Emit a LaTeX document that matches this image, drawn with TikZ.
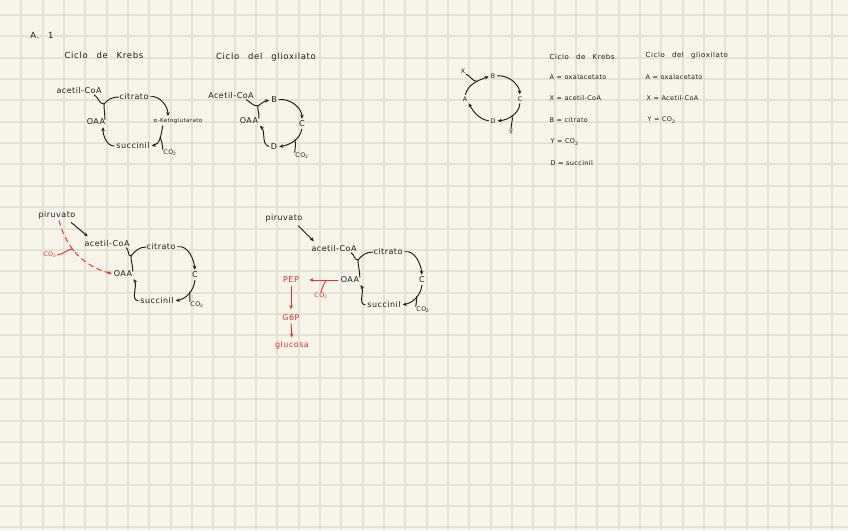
\documentclass[tikz,border=0pt]{standalone}
\usepackage{fontspec}
\setmainfont{DejaVu Sans}
\newfontfamily\hand[LetterSpace=6]{DejaVu Sans}
\newfontfamily\wide[LetterSpace=8,WordSpace=2.6]{DejaVu Sans}
\usetikzlibrary{arrows.meta}
\definecolor{paper}{HTML}{F7F5EA}
\definecolor{gridc}{HTML}{E4E1D5}
\definecolor{ink}{HTML}{1C1C1C}
\definecolor{redink}{HTML}{E5322B}
\tikzset{
 lbl/.style={font=\hand\fontsize{8}{9}\selectfont, inner sep=0.5pt, text=ink},
 sml/.style={font=\hand\fontsize{6.3}{7}\selectfont, inner sep=0.5pt, text=ink},
 tny/.style={font=\hand\fontsize{5.6}{6}\selectfont, inner sep=0.5pt, text=ink},
 ttl/.style={font=\wide\fontsize{8.5}{9}\selectfont, inner sep=0.5pt, text=ink},
 leg/.style={font=\hand\fontsize{6.5}{7}\selectfont, inner sep=0.5pt, text=ink, anchor=west},
 legt/.style={font=\wide\fontsize{7}{8}\selectfont, inner sep=0.5pt, text=ink, anchor=west},
 ln/.style={draw=ink, line width=0.95pt, line cap=round},
 arr/.style={ln, -{Stealth[length=4pt,width=3.6pt]}, shorten >=1.5pt, shorten <=1.5pt},
 rlbl/.style={lbl, text=redink},
 rsml/.style={sml, text=redink},
 rln/.style={draw=redink, line width=0.95pt, line cap=round},
 rarr/.style={rln, -{Stealth[length=4pt,width=3.6pt]}},
 gridline/.style={draw=gridc, line width=2pt},
}
\begin{document}
\begin{tikzpicture}[x=1pt,y=-1pt]
\fill[paper] (0,0) rectangle (848,530);
\useasboundingbox (0,0) rectangle (848,530);
\foreach \i in {1,...,39} \draw[gridline] (\i*21.33,0) -- (\i*21.33,530);
\foreach \j in {0,...,24} \draw[gridline] (0,15+\j*21.35) -- (848,15+\j*21.35);

% headings
\node[ttl] (h) at (42,35) {A. 1};
\node[ttl] (t1) at (104,55) {Ciclo de Krebs};
\node[ttl] (t2) at (266,57) {Ciclo del glioxilato};

% Krebs (top)
\node[lbl] (ka) at (79,91) {acetil-CoA};
\node[lbl] (kc) at (134,97) {citrato};
\node[tny] (kk) at (178,121) {α-Ketoglutarato};
\node[lbl] (ko) at (96,122) {OAA};
\node[lbl] (ks) at (133,146) {succinil};
\node[sml] (kco) at (170,153) {CO\textsubscript{2}};
\coordinate (kj) at (104,104);
\draw[ln] ([xshift=-8pt]ka.south east) to[out=-30,in=180] (kj);
\draw[ln] ([xshift=-1pt,yshift=-1pt]ko.north east) to[out=90,in=-90] (kj);
\draw[ln] (kj) to[out=50,in=180] (kc.west);
\draw[arr] (kc.east) to[out=10,in=90] ([xshift=-10pt]kk.north);
\draw[arr] ([xshift=-15pt]kk.south) to[out=-100,in=10] node[coordinate,pos=.45](kb){} (ks.east);
\draw[ln] (kb) to[out=-70,in=95] (kco.north west);
\draw[arr] (ks.west) to[out=180,in=-90] ([xshift=7pt]ko.south);

% Glioxilato (top)
\node[lbl] (ga) at (231,96) {Acetil-CoA};
\node[lbl] (gb) at (274,100) {B};
\node[lbl] (go) at (249,121) {OAA};
\node[lbl] (gc) at (302,124) {C};
\node[lbl] (gd) at (274,147) {D};
\node[sml] (gco) at (302,156) {CO\textsubscript{2}};
\coordinate (gj) at (258,106);
\draw[ln] ([xshift=-8pt]ga.south east) to[out=-30,in=180] (gj);
\draw[ln] ([yshift=-1pt]go.north east) to[out=80,in=-100] (gj);
\draw[arr, shorten <=0pt] (gj) to[out=40,in=190] (gb.west);
\draw[arr] (gb.east) to[out=10,in=90] (gc.north);
\draw[arr] (gc.south) to[out=-100,in=10] node[coordinate,pos=.45](gbr){} (gd.east);
\draw[ln] (gbr) to[out=-70,in=90] (gco.north west);
\draw[arr] (gd.west) to[out=160,in=-45] (go.south east);

% generic cycle
\node[sml] (cx) at (463,71) {X};
\node[sml] (cb) at (493,76) {B};
\node[sml] (ca) at (465,99) {A};
\node[sml] (cc) at (520,99) {C};
\node[sml] (cd) at (493,121) {D};
\node[sml] (cy) at (511,132) {Y};
\draw[arr] (ca.north) to[out=75,in=200] node[coordinate,pos=.6](cj){} (cb.west);
\draw[ln] (cx.south east) to[out=-20,in=180] (cj);
\draw[arr] (cb.east) to[out=5,in=95] (cc.north);
\draw[arr] (cc.south) to[out=-95,in=5] node[coordinate,pos=.5](cbr){} (cd.east);
\draw[ln] (cbr) to[out=-80,in=90] (cy.north);
\draw[arr] (cd.west) to[out=170,in=-60] (ca.south east);

% legend
\node[legt] (l0) at (549,57) {Ciclo de Krebs};
\node[leg] (l1) at (549,77) {A = oxalacetato};
\node[leg] (l2) at (549,98) {X = acetil-CoA};
\node[leg] (l3) at (549,120) {B = citrato};
\node[leg] (l4) at (550,142) {Y = CO\textsubscript{2}};
\node[leg] (l5) at (550,163) {D = succinil};
\node[legt] (m0) at (645,56) {Ciclo del glioxilato};
\node[leg] (m1) at (645,77) {A = oxalacetato};
\node[leg] (m2) at (646,98) {X = Acetil-CoA};
\node[leg] (m3) at (647,120) {Y = CO\textsubscript{2}};

% bottom left
\node[lbl] (p1) at (57,215) {piruvato};
\node[lbl] (a1) at (107,244) {acetil-CoA};
\node[lbl] (c1) at (161,247) {citrato};
\node[lbl] (o1) at (123,274) {OAA};
\node[lbl] (C1) at (195,275) {C};
\node[lbl] (s1) at (157,301) {succinil};
\node[sml] (co1) at (197,305) {CO\textsubscript{2}};
\node[rsml] (r1) at (50,255) {CO\textsubscript{2}};
\coordinate (j1) at (131,256);
\draw[arr] ([xshift=-6pt,yshift=-2pt]p1.south east) -- ([xshift=5pt,yshift=3pt]a1.north west);
\draw[ln] ([xshift=-4pt]a1.south east) to[out=-30,in=180] (j1);
\draw[ln] ([yshift=-1pt]o1.north east) to[out=90,in=-90] (j1);
\draw[ln] (j1) to[out=50,in=180] (c1.west);
\draw[arr] (c1.east) to[out=10,in=95] (C1.north);
\draw[arr] (C1.south) to[out=-95,in=10] node[coordinate,pos=.45](b1){} (s1.east);
\draw[ln] (b1) to[out=-80,in=90] (co1.north west);
\draw[arr] (s1.west) to[out=175,in=-60] (o1.south east);
\draw[rarr, dash pattern=on 5pt off 4pt, shorten >=1.5pt] ([xshift=2pt,yshift=-1pt]p1.south) to[out=-75,in=165] node[coordinate,pos=.42](rj){} (o1.west);
\draw[rln] (r1.east) to[out=0,in=135] (rj);

% bottom middle
\node[lbl] (p2) at (284,218) {piruvato};
\node[lbl] (a2) at (334,249) {acetil-CoA};
\node[lbl] (c2) at (388,252) {citrato};
\node[lbl] (o2) at (350,280) {OAA};
\node[lbl] (C2) at (422,280) {C};
\node[lbl] (s2) at (384,305) {succinil};
\node[sml] (co2) at (423,310) {CO\textsubscript{2}};
\coordinate (j2) at (358,260);
\draw[arr] ([xshift=-6pt,yshift=-2pt]p2.south east) -- ([xshift=4pt,yshift=3pt]a2.north west);
\draw[ln] ([xshift=-6pt]a2.south east) to[out=-30,in=180] (j2);
\draw[ln] ([yshift=-1pt]o2.north east) to[out=90,in=-90] (j2);
\draw[ln] (j2) to[out=50,in=180] (c2.west);
\draw[arr] (c2.east) to[out=10,in=95] (C2.north);
\draw[arr] (C2.south) to[out=-95,in=10] node[coordinate,pos=.45](b2){} (s2.east);
\draw[ln] (b2) to[out=-80,in=90] (co2.north west);
\draw[arr] (s2.west) to[out=175,in=-60] (o2.south east);
\node[rlbl] (pep) at (291,280) {PEP};
\node[rlbl] (g6p) at (291,318) {G6P};
\node[rlbl] (glc) at (292,345) {glucosa};
\node[rsml] (rco2) at (321,296) {CO\textsubscript{2}};
\draw[rarr, shorten <=3pt, shorten >=5pt] (pep.south) -- (g6p.north);
\draw[rarr, shorten <=2pt, shorten >=3pt] (g6p.south) -- (glc.north);
\draw[rarr, shorten <=2pt, shorten >=10pt] (o2.west) -- node[coordinate,pos=.35](rb2){} (pep.east);
\draw[rln] (rb2) to[out=-110,in=80] (rco2.north);
\end{tikzpicture}
\end{document}
